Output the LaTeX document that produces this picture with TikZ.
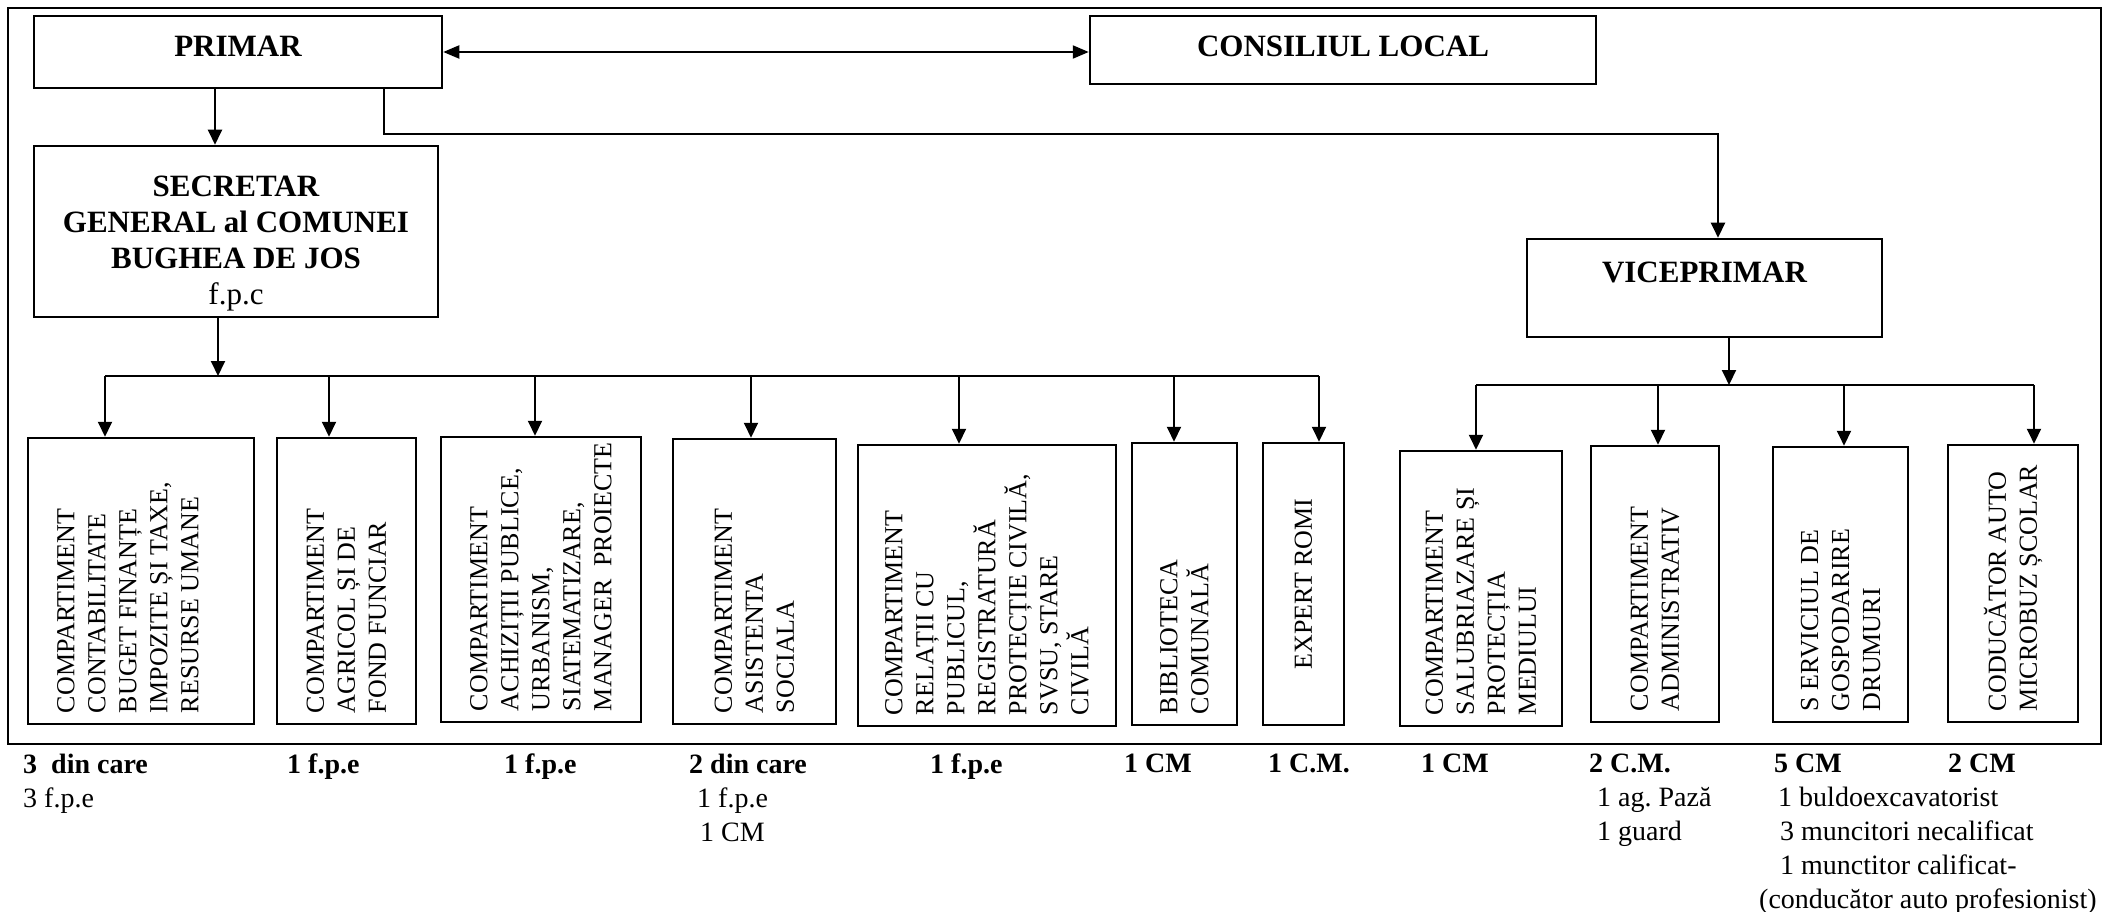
\documentclass[tikz,border=0pt]{standalone}
\usepackage{fontspec}
\setmainfont{Liberation Serif}
\usetikzlibrary{positioning,fit,arrows.meta}
\newcommand\unitbox[5][unittext]{
  \node[unit, fit={(#2) (#3)}] (#5) {};
  \node[#1] (#5-txt) at ([yshift=12pt]#5.south) {#4};
}

\begin{document}
\begin{tikzpicture}[
    x=1pt, y=-1pt,
    head/.style={draw, line width=2.5pt, inner sep=0pt},
    headtext/.style={inner sep=0pt, font={\fontsize{31}{36}\selectfont\bfseries}},
    unit/.style={draw, line width=2.5pt, inner sep=0pt},
    unittext/.style={rotate=90, anchor=west, inner sep=0pt, align=left,
                     font={\fontsize{26}{31}\selectfont}},
    link/.style={line width=2pt, -{Triangle[length=15pt,width=14pt]}},
    bus/.style={line width=2pt},
    staff/.style={anchor=north west, inner sep=0pt, align=left,
                  font={\fontsize{28}{34}\selectfont}},]

    \useasboundingbox (0,0) rectangle (2126,912);
    \draw[line width=2.5pt] (8,8) rectangle (2101,744);

    % conducere
    \node[head, fit={(34,16) (442,88)}] (primar) {};
    \node[headtext, anchor=base] (primar-txt) at ([yshift=-5pt]primar.center) {PRIMAR};
    \node[head, fit={(1090,16) (1596,84)}] (consiliu) {};
    \node[headtext, anchor=base] (consiliu-txt) at ([yshift=-7pt]consiliu.center) {CONSILIUL LOCAL};
    \node[head, fit={(34,146) (438,317)}] (secretar) {};
    \node[headtext, align=center] (secretar-txt) at ([yshift=-12pt]secretar.center) {SECRETAR\\GENERAL al COMUNEI\\BUGHEA DE JOS\\{\mdseries f.p.c}};
    \node[head, fit={(1527,239) (1882,337)}] (vice) {};
    \node[headtext, anchor=base] (vice-txt) at ([yshift=6pt]vice.center) {VICEPRIMAR};

    \draw[line width=2pt, {Triangle[length=16pt,width=13pt]}-{Triangle[length=16pt,width=13pt]}]
        (primar.east) -- (primar.east -| consiliu.west);
    \draw[link] ([xshift=-23pt]primar.south) -- ([xshift=-23pt]primar.south |- secretar.north);
    \coordinate (pv) at (1718,134);
    \draw[link] ([xshift=146pt]primar.south) |- (pv) -- (pv |- vice.north);

    % compartimente secretar
    \unitbox[xshift=-13pt, unittext]{28,438}{254,724}{COMPARTIMENT\\CONTABILITATE\\BUGET FINANȚE\\IMPOZITE ȘI TAXE,\\RESURSE UMANE}{contab}
    \unitbox{277,438}{416,724}{COMPARTIMENT\\AGRICOL ȘI DE\\FOND FUNCIAR}{agricol}
    \unitbox{441,437}{641,722}{COMPARTIMENT\\ACHIZIȚII PUBLICE,\\URBANISM,\\SIATEMATIZARE,\\MANAGER~~PROIECTE}{achiz}
    \unitbox{673,439}{836,724}{COMPARTIMENT\\ASISTENTA\\SOCIALA}{asist}
    \unitbox{858,445}{1116,726}{COMPARTIMENT\\RELAȚII CU\\PUBLICUL,\\REGISTRATURĂ\\PROTECȚIE CIVILĂ,\\SVSU, STARE\\CIVILĂ}{relatii}
    \unitbox{1132,443}{1237,725}{BIBLIOTECA\\COMUNALĂ}{biblio}
    \node[unit, fit={(1263,443) (1344,725)}] (romi) {};
    \node[unittext, anchor=center] (romi-txt) at (romi) {EXPERT ROMI};

    % compartimente viceprimar
    \unitbox{1400,451}{1562,726}{COMPARTIMENT\\SALUBRIAZARE ȘI\\PROTECȚIA\\MEDIULUI}{salubr}
    \unitbox{1591,446}{1719,722}{COMPARTIMENT\\ADMINISTRATIV}{admin}
    \unitbox{1773,447}{1908,722}{S ERVICIUL DE\\GOSPODARIRE\\DRUMURI}{drum}
    \unitbox{1948,445}{2078,722}{CODUCĂTOR AUTO\\MICROBUZ ȘCOLAR}{sofer}

    \coordinate (sbus) at (218,376);
    \draw[link] ([xshift=-18pt]secretar.south) -- (sbus);
    \foreach \x/\u in {105/contab,329/agricol,535/achiz,751/asist,959/relatii,1174/biblio,1319/romi}{
      \coordinate (\u-in) at (\x,376);
      \draw[link] (\u-in) -- (\u-in |- \u.north);
    }
    \draw[bus] (contab-in) -- (romi-in);

    \coordinate (vbus) at (1729,385);
    \draw[link] ([xshift=24.5pt]vice.south) -- (vbus);
    \foreach \x/\u in {1476/salubr,1658/admin,1844/drum,2034/sofer}{
      \coordinate (\u-in) at (\x,385);
      \draw[link] (\u-in) -- (\u-in |- \u.north);
    }
    \draw[bus] (salubr-in) -- (sofer-in);

    % personal
    \node[staff] (st1) at (23,754) {\textbf{3~~din care}\\3 f.p.e};
    \node[staff] (st2) at (287,754) {\textbf{1 f.p.e}};
    \node[staff] (st3) at (504,754) {\textbf{1 f.p.e}};
    \node[staff] (st4) at (689,754) {\textbf{2 din care}\\\hspace*{8pt}1 f.p.e\\\hspace*{11pt}1 CM};
    \node[staff] (st5) at (930,754) {\textbf{1 f.p.e}};
    \node[staff] (st6) at (1124,754) {\textbf{1 CM}};
    \node[staff] (st7) at (1268,754) {\textbf{1 C.M.}};
    \node[staff] (st8) at (1421,754) {\textbf{1 CM}};
    \node[staff] (st9) at (1589,754) {\textbf{2 C.M.}\\\hspace*{8pt}1 ag.\ Pază\\\hspace*{8pt}1 guard};
    \node[staff] (st10) at (1759,754) {\hspace*{15pt}\textbf{5 CM}\\\hspace*{19pt}1 buldoexcavatorist\\\hspace*{21pt}3 muncitori necalificat\\\hspace*{21pt}1 munctitor calificat-\\(conducător auto profesionist)};
    \node[staff] (st11) at (1948,754) {\textbf{2 CM}};

\end{tikzpicture}
\end{document}
